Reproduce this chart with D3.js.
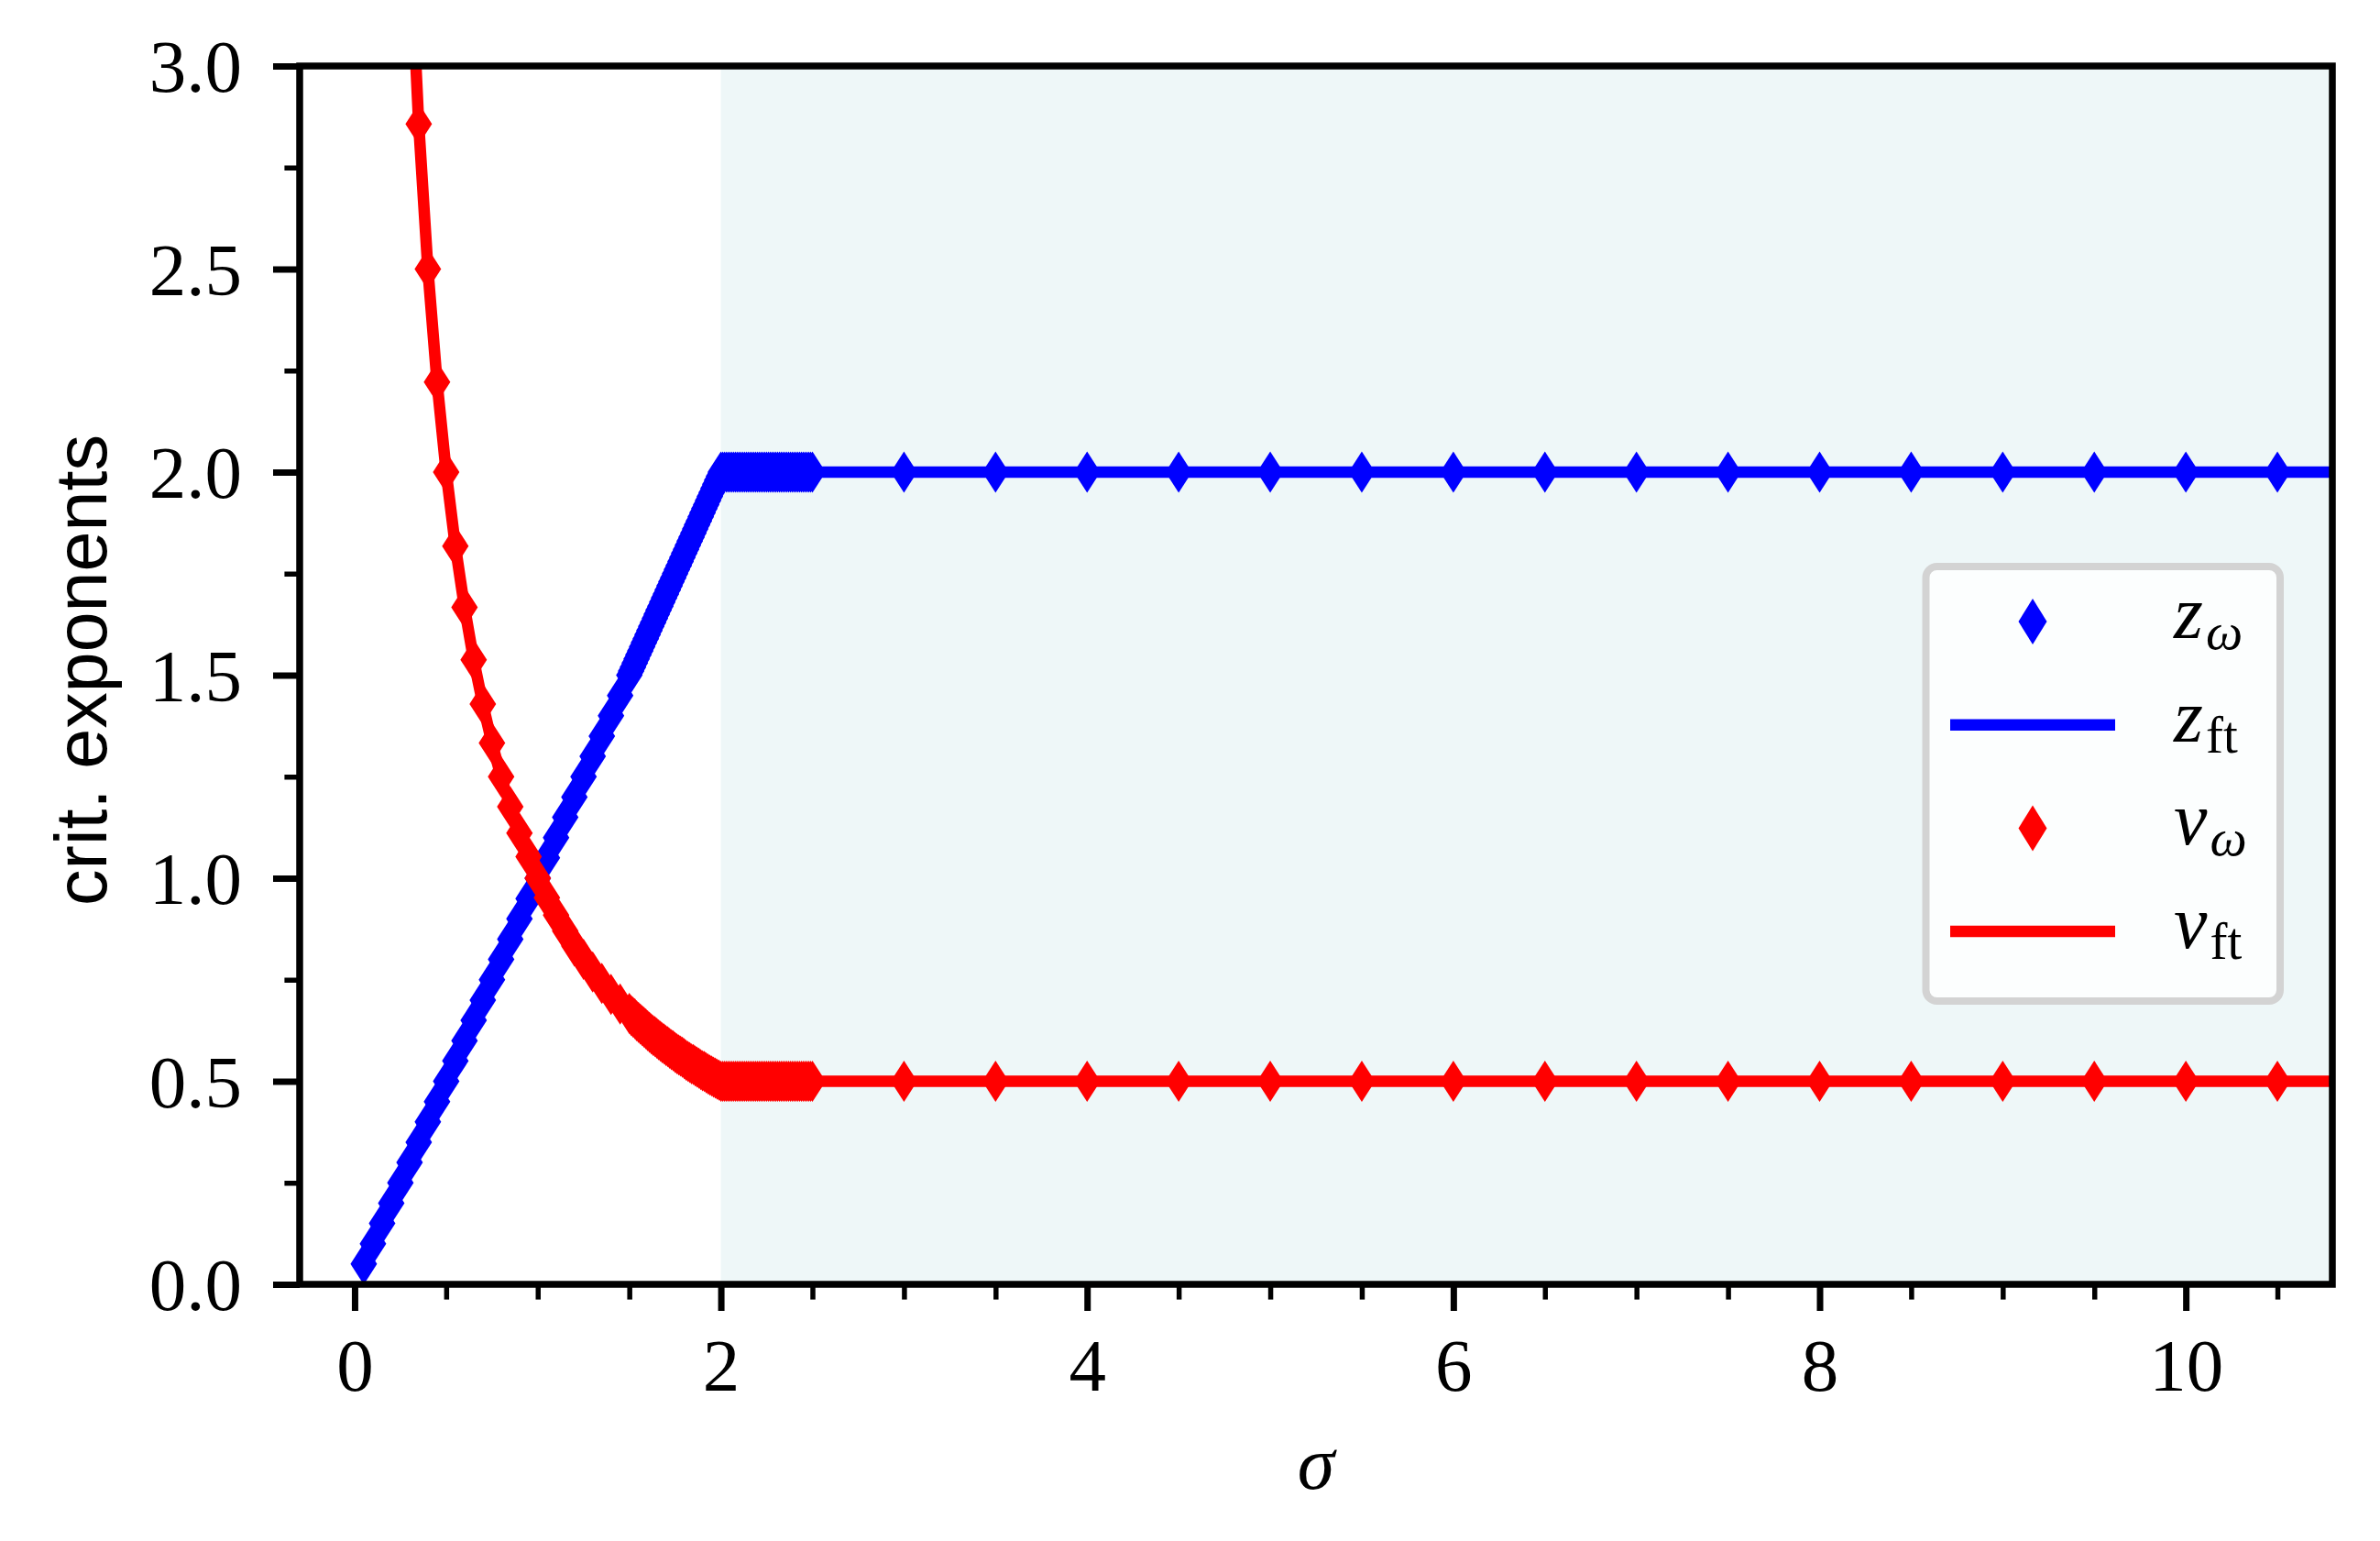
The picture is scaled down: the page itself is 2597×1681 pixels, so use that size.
<!DOCTYPE html>
<html>
<head>
<meta charset="utf-8">
<script src="https://cdn.jsdelivr.net/npm/d3@7"></script>
<style>
  body { margin: 0; background: #fff; }
  svg { display: block; }
</style>
</head>
<body>
<div id="chart"></div>
<script>
// sigma grid of the omega-data markers (coarse, then fine between 1.5 and 2.5, then sparse)
const sigma = [0.05, 0.1, 0.15, 0.2, 0.25, 0.3, 0.35, 0.4, 0.45, 0.5,
    0.55, 0.6, 0.65, 0.7, 0.75, 0.8, 0.85, 0.9, 0.95, 1.0,
    1.05, 1.1, 1.15, 1.2, 1.25, 1.3, 1.35, 1.4, 1.45,
    1.50, 1.51, 1.52, 1.53, 1.54, 1.55, 1.56, 1.57, 1.58, 1.59,
    1.60, 1.61, 1.62, 1.63, 1.64, 1.65, 1.66, 1.67, 1.68, 1.69,
    1.70, 1.71, 1.72, 1.73, 1.74, 1.75, 1.76, 1.77, 1.78, 1.79,
    1.80, 1.81, 1.82, 1.83, 1.84, 1.85, 1.86, 1.87, 1.88, 1.89,
    1.90, 1.91, 1.92, 1.93, 1.94, 1.95, 1.96, 1.97, 1.98, 1.99,
    2.00, 2.01, 2.02, 2.03, 2.04, 2.05, 2.06, 2.07, 2.08, 2.09,
    2.10, 2.11, 2.12, 2.13, 2.14, 2.15, 2.16, 2.17, 2.18, 2.19,
    2.20, 2.21, 2.22, 2.23, 2.24, 2.25, 2.26, 2.27, 2.28, 2.29,
    2.30, 2.31, 2.32, 2.33, 2.34, 2.35, 2.36, 2.37, 2.38, 2.39,
    2.40, 2.41, 2.42, 2.43, 2.44, 2.45, 2.46, 2.47, 2.48, 2.49,
    2.50,
    3.0, 3.5, 4.0, 4.5, 5.0, 5.5, 6.0, 6.5, 7.0, 7.5, 8.0, 8.5, 9.0, 9.5, 10.0, 10.5];

const zOmega = [0.05, 0.1, 0.15, 0.2, 0.25, 0.3, 0.35, 0.4, 0.45, 0.5,
    0.55, 0.6, 0.65, 0.7, 0.75, 0.8, 0.85, 0.9, 0.95, 1.0,
    1.05, 1.1, 1.15, 1.2, 1.25, 1.3, 1.35, 1.4, 1.45,
    1.50, 1.51, 1.52, 1.53, 1.54, 1.55, 1.56, 1.57, 1.58, 1.59,
    1.60, 1.61, 1.62, 1.63, 1.64, 1.65, 1.66, 1.67, 1.68, 1.69,
    1.70, 1.71, 1.72, 1.73, 1.74, 1.75, 1.76, 1.77, 1.78, 1.79,
    1.80, 1.81, 1.82, 1.83, 1.84, 1.85, 1.86, 1.87, 1.88, 1.89,
    1.90, 1.91, 1.92, 1.93, 1.94, 1.95, 1.96, 1.97, 1.98, 1.99,
    2, 2, 2, 2, 2, 2, 2, 2, 2, 2,
    2, 2, 2, 2, 2, 2, 2, 2, 2, 2,
    2, 2, 2, 2, 2, 2, 2, 2, 2, 2,
    2, 2, 2, 2, 2, 2, 2, 2, 2, 2,
    2, 2, 2, 2, 2, 2, 2, 2, 2, 2,
    2,
    2, 2, 2, 2, 2, 2, 2, 2, 2, 2, 2, 2, 2, 2, 2, 2];

const nuOmega = [20.0, 10.0, 6.667, 5.0, 4.0, 3.333, 2.857, 2.5, 2.222, 2.0,
    1.818, 1.667, 1.538, 1.429, 1.333, 1.25, 1.176, 1.111, 1.053, 1.0,
    0.952, 0.909, 0.870, 0.833, 0.8, 0.769, 0.741, 0.714, 0.690,
    0.667, 0.662, 0.658, 0.654, 0.649, 0.645, 0.641, 0.637, 0.633, 0.629,
    0.625, 0.621, 0.617, 0.613, 0.610, 0.606, 0.602, 0.599, 0.595, 0.592,
    0.588, 0.585, 0.581, 0.578, 0.575, 0.571, 0.568, 0.565, 0.562, 0.559,
    0.556, 0.552, 0.549, 0.546, 0.543, 0.541, 0.538, 0.535, 0.532, 0.529,
    0.526, 0.524, 0.521, 0.518, 0.515, 0.513, 0.510, 0.508, 0.505, 0.503,
    0.5, 0.5, 0.5, 0.5, 0.5, 0.5, 0.5, 0.5, 0.5, 0.5,
    0.5, 0.5, 0.5, 0.5, 0.5, 0.5, 0.5, 0.5, 0.5, 0.5,
    0.5, 0.5, 0.5, 0.5, 0.5, 0.5, 0.5, 0.5, 0.5, 0.5,
    0.5, 0.5, 0.5, 0.5, 0.5, 0.5, 0.5, 0.5, 0.5, 0.5,
    0.5, 0.5, 0.5, 0.5, 0.5, 0.5, 0.5, 0.5, 0.5, 0.5,
    0.5,
    0.5, 0.5, 0.5, 0.5, 0.5, 0.5, 0.5, 0.5, 0.5, 0.5, 0.5, 0.5, 0.5, 0.5, 0.5, 0.5];

// field-theory lines (run a bit past the last marker)
const sigmaFt = [0.05, 0.1, 0.15, 0.2, 0.25, 0.3, 0.35, 0.4, 0.45, 0.5,
    0.55, 0.6, 0.65, 0.7, 0.75, 0.8, 0.85, 0.9, 0.95, 1.0,
    1.05, 1.1, 1.15, 1.2, 1.25, 1.3, 1.35, 1.4, 1.45, 1.5,
    1.55, 1.6, 1.65, 1.7, 1.75, 1.8, 1.85, 1.9, 1.95, 2.0,
    2.5, 3.0, 4.0, 5.0, 6.0, 7.0, 8.0, 9.0, 10.0, 11.0];

const zFt = [0.05, 0.1, 0.15, 0.2, 0.25, 0.3, 0.35, 0.4, 0.45, 0.5,
    0.55, 0.6, 0.65, 0.7, 0.75, 0.8, 0.85, 0.9, 0.95, 1.0,
    1.05, 1.1, 1.15, 1.2, 1.25, 1.3, 1.35, 1.4, 1.45, 1.5,
    1.55, 1.6, 1.65, 1.7, 1.75, 1.8, 1.85, 1.9, 1.95, 2.0,
    2, 2, 2, 2, 2, 2, 2, 2, 2, 2];

const nuFt = [20.0, 10.0, 6.667, 5.0, 4.0, 3.333, 2.857, 2.5, 2.222, 2.0,
    1.818, 1.667, 1.538, 1.429, 1.333, 1.25, 1.176, 1.111, 1.053, 1.0,
    0.952, 0.909, 0.870, 0.833, 0.8, 0.769, 0.741, 0.714, 0.690, 0.667,
    0.645, 0.625, 0.606, 0.588, 0.571, 0.556, 0.541, 0.526, 0.513, 0.5,
    0.5, 0.5, 0.5, 0.5, 0.5, 0.5, 0.5, 0.5, 0.5, 0.5];

const shadeFrom = 2;   // light region for sigma > 2

const xMajor = [0, 2, 4, 6, 8, 10];
const xMinor = [0.5, 1, 1.5, 2.5, 3, 3.5, 4.5, 5, 5.5, 6.5, 7, 7.5, 8.5, 9, 9.5, 10.5];
const yMajor = [0, 0.5, 1, 1.5, 2, 2.5, 3];
const yMinor = [0.25, 0.75, 1.25, 1.75, 2.25, 2.75];

const width = 2597, height = 1681;
const pLeft = 327, pRight = 2545, pTop = 72, pBottom = 1401;

const serif = '"Liberation Serif", "DejaVu Serif", serif';
const sans = '"Liberation Sans", "DejaVu Sans", sans-serif';

const svg = d3.select('#chart')
    .append('svg')
    .attr('width', width)
    .attr('height', height)
    .style('background', '#fff');

const xScale = d3.scaleLinear().domain([-0.3, 10.8]).range([pLeft, pRight]);
const yScale = d3.scaleLinear().domain([0, 3]).range([pBottom, pTop]);

svg.append('clipPath')
    .attr('id', 'plotClip')
    .append('rect')
    .attr('x', pLeft).attr('y', pTop)
    .attr('width', pRight - pLeft).attr('height', pBottom - pTop);

const plot = svg.append('g').attr('clip-path', 'url(#plotClip)');

// shaded region
plot.append('rect')
    .attr('x', xScale(shadeFrom))
    .attr('y', pTop)
    .attr('width', xScale(xScale.domain()[1]) - xScale(shadeFrom))
    .attr('height', pBottom - pTop)
    .attr('fill', '#eef7f8');

function diamond(w, h) {
    return `M0,${-h / 2}L${w / 2},0L0,${h / 2}L${-w / 2},0Z`;
}

const line = d3.line()
    .x(d => xScale(d[0]))
    .y(d => yScale(d[1]));

function drawMarkers(xs, ys, color) {
    plot.append('g')
        .selectAll('path')
        .data(xs.map((s, i) => [s, ys[i]]))
        .enter()
        .append('path')
        .attr('d', diamond(29, 45))
        .attr('transform', d => `translate(${xScale(d[0])},${yScale(d[1])})`)
        .attr('fill', color);
}

function drawLine(xs, ys, color) {
    plot.append('path')
        .datum(xs.map((s, i) => [s, ys[i]]))
        .attr('d', line)
        .attr('fill', 'none')
        .attr('stroke', color)
        .attr('stroke-width', 12.5)
        .attr('stroke-linejoin', 'round');
}

drawMarkers(sigma, zOmega, '#0000ff');
drawLine(sigmaFt, zFt, '#0000ff');
drawMarkers(sigma, nuOmega, '#ff0000');
drawLine(sigmaFt, nuFt, '#ff0000');

// axes
const xAxis = svg.append('g')
    .attr('transform', `translate(0, ${pBottom})`)
    .call(d3.axisBottom(xScale).tickValues(xMajor).tickSize(29).tickFormat(d3.format('d')));
xAxis.select('.domain').remove();
xAxis.selectAll('line').attr('stroke', '#000').attr('stroke-width', 7);
xAxis.selectAll('text')
    .attr('y', 116)
    .attr('dy', 0)
    .style('font-family', serif)
    .style('font-size', '81px')
    .attr('fill', '#000');

const xAxisMinor = svg.append('g')
    .attr('transform', `translate(0, ${pBottom})`)
    .call(d3.axisBottom(xScale).tickValues(xMinor).tickSize(16.6).tickFormat(''));
xAxisMinor.select('.domain').remove();
xAxisMinor.selectAll('line').attr('stroke', '#000').attr('stroke-width', 5.5);

const yAxis = svg.append('g')
    .attr('transform', `translate(${pLeft}, 0)`)
    .call(d3.axisLeft(yScale).tickValues(yMajor).tickSize(29).tickFormat(d3.format('.1f')));
yAxis.select('.domain').remove();
yAxis.selectAll('line').attr('stroke', '#000').attr('stroke-width', 7);
yAxis.selectAll('text')
    .attr('x', -63)
    .attr('dy', '0.34em')
    .style('font-family', serif)
    .style('font-size', '81px')
    .attr('fill', '#000');

const yAxisMinor = svg.append('g')
    .attr('transform', `translate(${pLeft}, 0)`)
    .call(d3.axisLeft(yScale).tickValues(yMinor).tickSize(16.6).tickFormat(''));
yAxisMinor.select('.domain').remove();
yAxisMinor.selectAll('line').attr('stroke', '#000').attr('stroke-width', 5.5);

// spines
svg.append('rect')
    .attr('x', pLeft).attr('y', pTop)
    .attr('width', pRight - pLeft).attr('height', pBottom - pTop)
    .attr('fill', 'none')
    .attr('stroke', '#000')
    .attr('stroke-width', 7.5);

// axis labels
svg.append('text')
    .text('σ')
    .attr('x', 1436)
    .attr('y', 1624)
    .attr('text-anchor', 'middle')
    .style('font-family', serif)
    .style('font-style', 'italic')
    .style('font-size', '82px')
    .attr('fill', '#000');

svg.append('text')
    .text('crit. exponents')
    .attr('transform', 'translate(116, 731) rotate(-90)')
    .attr('text-anchor', 'middle')
    .style('font-family', sans)
    .style('font-size', '79px')
    .attr('fill', '#000');

// legend
const legendItems = [
    { main: 'z', sub: 'ω', subItalic: true, color: '#0000ff', kind: 'marker' },
    { main: 'z', sub: 'ft', subItalic: false, color: '#0000ff', kind: 'line' },
    { main: 'ν', sub: 'ω', subItalic: true, color: '#ff0000', kind: 'marker' },
    { main: 'ν', sub: 'ft', subItalic: false, color: '#ff0000', kind: 'line' }
];

const legend = svg.append('g');
legend.append('rect')
    .attr('x', 2101.5).attr('y', 618)
    .attr('width', 386.5).attr('height', 474)
    .attr('rx', 12).attr('ry', 12)
    .attr('fill', 'rgba(255,255,255,0.8)')
    .attr('stroke', '#d3d3d3')
    .attr('stroke-width', 8);

legendItems.forEach(function (item, i) {
    const cy = 678 + i * 112.7;
    if (item.kind === 'marker') {
        legend.append('path')
            .attr('d', diamond(31, 50))
            .attr('transform', `translate(2218, ${cy})`)
            .attr('fill', item.color);
    } else {
        legend.append('line')
            .attr('x1', 2128).attr('x2', 2308)
            .attr('y1', cy).attr('y2', cy)
            .attr('stroke', item.color)
            .attr('stroke-width', 12.5);
    }
    const t = legend.append('text')
        .attr('x', 2372)
        .attr('y', cy + 18)
        .style('font-family', serif)
        .attr('fill', '#000');
    t.append('tspan')
        .text(item.main)
        .style('font-style', 'italic')
        .style('font-size', '82px');
    t.append('tspan')
        .text(item.sub)
        .attr('dx', 3)
        .attr('dy', 12)
        .style('font-style', item.subItalic ? 'italic' : 'normal')
        .style('font-size', '57px');
});
</script>
</body>
</html>
